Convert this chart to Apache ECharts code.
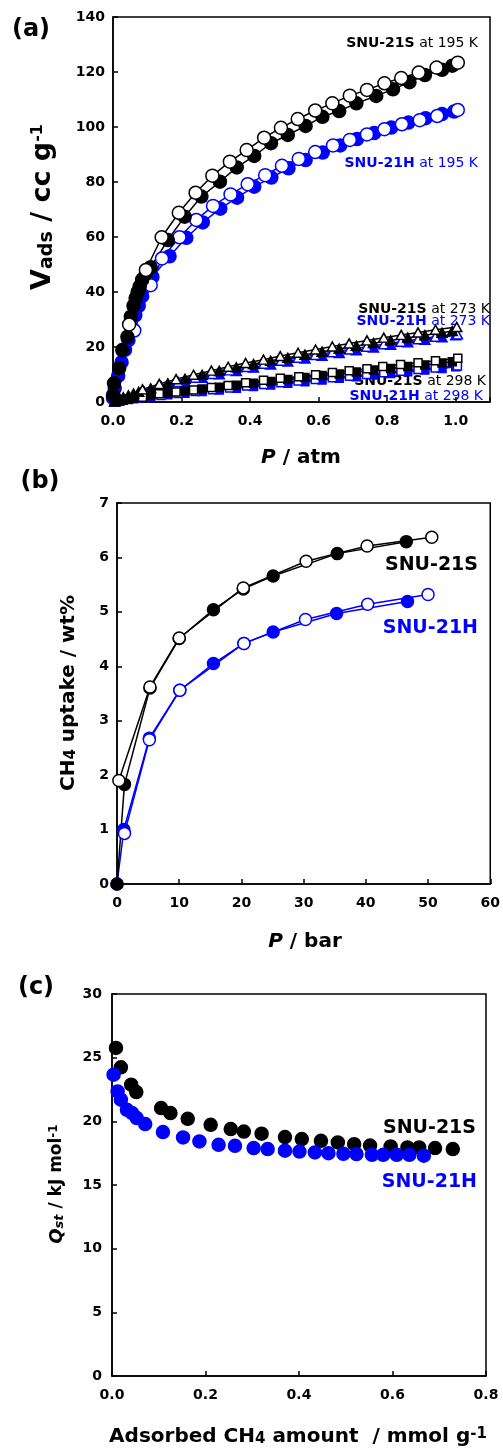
<!DOCTYPE html>
<html><head><meta charset="utf-8">
<script src="https://cdn.jsdelivr.net/npm/echarts@6/dist/echarts.min.js"></script>
<style>html,body{margin:0;padding:0;background:#fff}#c{width:503px;height:1451px}</style>
</head><body><div id="c"></div><script>
// ---------- Panel (a): CH4? isotherms, V_ads (cc/g) vs P (atm) ----------
const a_S195_ads = [[0.0,2.5],[0.003,6.8],[0.018,12.3],[0.027,18.9],[0.042,23.7],[0.052,31],[0.06,35],[0.066,37.8],[0.072,40],[0.078,42],[0.085,44.5],[0.095,46.5],[0.11,49],[0.16,58.9],[0.209,67.4],[0.258,74.7],[0.312,80.1],[0.361,85.3],[0.412,89.5],[0.461,94.1],[0.51,97.1],[0.562,100.4],[0.611,103.7],[0.66,105.8],[0.71,108.6],[0.768,111.3],[0.817,113.7],[0.865,116.3],[0.91,118.9],[0.96,120.8],[0.99,122.3]];
const a_S195_des = [[0.047,28.2],[0.096,48.0],[0.142,59.9],[0.192,68.8],[0.241,76.1],[0.29,82.3],[0.341,87.4],[0.39,91.6],[0.441,96.1],[0.49,99.7],[0.539,102.9],[0.59,106.0],[0.64,108.6],[0.691,111.4],[0.741,113.5],[0.792,115.9],[0.841,117.8],[0.892,119.8],[0.944,121.6],[1.006,123.4]];
const a_H195_ads = [[0.0,1.5],[0.005,5],[0.015,9.5],[0.025,14.5],[0.035,19],[0.045,22.5],[0.055,27],[0.065,31.5],[0.075,35],[0.085,38.5],[0.1,42.5],[0.115,45.5],[0.165,53],[0.214,59.7],[0.262,65.3],[0.313,70.3],[0.362,74.3],[0.412,78.3],[0.462,81.6],[0.512,85.0],[0.562,88.0],[0.612,90.7],[0.663,93.3],[0.712,95.6],[0.762,97.8],[0.812,99.8],[0.862,101.6],[0.912,103.2],[0.96,104.7],[0.995,105.6]];
const a_H195_des = [[0.062,26],[0.11,42.5],[0.143,52.2],[0.194,59.9],[0.243,66.2],[0.292,71.3],[0.343,75.5],[0.393,79.2],[0.444,82.5],[0.493,85.9],[0.542,88.4],[0.59,90.9],[0.642,93.3],[0.691,95.3],[0.741,97.3],[0.792,99.2],[0.843,101.0],[0.895,102.5],[0.946,104.0],[1.006,106.2]];
const a_S273_ads = [[0.005,0.3],[0.01,0.7],[0.02,1.2],[0.03,1.7],[0.045,2.4],[0.06,3.1],[0.075,3.7],[0.11,5.0],[0.16,6.8],[0.21,8.4],[0.26,9.9],[0.31,11.3],[0.36,12.6],[0.41,13.8],[0.46,15.0],[0.51,16.1],[0.56,17.2],[0.61,18.3],[0.66,19.4],[0.71,20.4],[0.76,21.4],[0.81,22.4],[0.86,23.4],[0.91,24.3],[0.96,25.2],[0.99,25.8]];
const a_S273_des = [[0.086,4.6],[0.135,6.6],[0.184,8.3],[0.235,9.9],[0.287,11.4],[0.336,12.8],[0.387,14.2],[0.439,15.4],[0.488,16.7],[0.54,17.9],[0.591,19.1],[0.64,20.2],[0.689,21.3],[0.741,22.4],[0.79,23.4],[0.841,24.4],[0.89,25.3],[0.941,26.3],[1.003,27.3]];
const a_H273_ads = [[0.005,0.2],[0.01,0.5],[0.02,1.0],[0.03,1.4],[0.045,2.0],[0.06,2.6],[0.075,3.1],[0.11,4.3],[0.16,5.9],[0.21,7.4],[0.26,8.8],[0.31,10.1],[0.36,11.3],[0.41,12.5],[0.46,13.6],[0.51,14.7],[0.56,15.8],[0.61,16.8],[0.66,17.8],[0.71,18.8],[0.76,19.8],[0.81,20.8],[0.86,21.7],[0.91,22.6],[0.96,23.5],[1.0,24.3]];
const a_H273_des = [[0.09,4.0],[0.14,5.8],[0.19,7.3],[0.24,8.8],[0.29,10.2],[0.34,11.5],[0.39,12.7],[0.44,13.9],[0.49,15.0],[0.54,16.1],[0.59,17.1],[0.64,18.1],[0.69,19.1],[0.74,20.1],[0.79,21.0],[0.84,21.9],[0.89,22.8],[0.94,23.7],[1.005,24.6]];
const a_S298_ads = [[0.005,0.1],[0.01,0.3],[0.02,0.5],[0.03,0.8],[0.045,1.1],[0.06,1.5],[0.075,1.8],[0.11,2.4],[0.16,3.2],[0.21,4.0],[0.26,4.7],[0.31,5.4],[0.36,6.1],[0.41,6.8],[0.46,7.5],[0.51,8.2],[0.56,8.9],[0.61,9.6],[0.66,10.2],[0.71,10.9],[0.76,11.6],[0.81,12.2],[0.86,12.9],[0.91,13.5],[0.96,14.2],[0.99,14.6]];
const a_S298_des = [[0.086,1.7],[0.135,3.0],[0.184,3.6],[0.235,4.4],[0.287,5.3],[0.336,6.0],[0.387,7.0],[0.439,7.9],[0.488,8.6],[0.542,9.2],[0.591,9.9],[0.64,10.7],[0.689,11.4],[0.741,12.1],[0.787,12.9],[0.839,13.6],[0.89,14.3],[0.941,15.0],[1.006,15.9]];
const a_H298_ads = [[0.005,0.1],[0.01,0.2],[0.02,0.4],[0.03,0.6],[0.045,0.9],[0.06,1.2],[0.075,1.4],[0.11,1.9],[0.16,2.6],[0.21,3.2],[0.26,3.8],[0.31,4.4],[0.36,5.0],[0.41,5.6],[0.46,6.2],[0.51,6.8],[0.56,7.4],[0.61,8.0],[0.66,8.6],[0.71,9.2],[0.76,9.8],[0.81,10.4],[0.86,11.0],[0.91,11.6],[0.96,12.2],[1.0,12.8]];
const a_H298_des = [[0.09,1.6],[0.14,2.4],[0.19,3.1],[0.24,3.8],[0.29,4.5],[0.34,5.1],[0.39,5.8],[0.44,6.4],[0.49,7.0],[0.54,7.6],[0.59,8.2],[0.64,8.8],[0.69,9.4],[0.74,10.0],[0.79,10.6],[0.84,11.2],[0.89,11.8],[0.94,12.4],[1.005,13.1]];
// ---------- Panel (b): CH4 uptake (wt%) vs P (bar) ----------
const b_S_ads = [[0,0],[1.2,1.83],[5.3,3.6],[10.0,4.51],[15.5,5.04],[20.3,5.42],[25.1,5.66],[35.4,6.07],[46.5,6.29]];
const b_S_des = [[0.3,1.9],[5.3,3.62],[10.0,4.52],[20.3,5.44],[30.4,5.93],[40.2,6.21],[50.6,6.37]];
const b_H_ads = [[0,0],[1.1,1.0],[5.2,2.68],[10.1,3.56],[15.5,4.05],[20.4,4.42],[25.1,4.63],[35.3,4.97],[46.7,5.19]];
const b_H_des = [[1.2,0.93],[5.2,2.65],[10.1,3.56],[20.4,4.42],[30.3,4.86],[40.3,5.14],[50.0,5.32]];
// ---------- Panel (c): Qst (kJ/mol) vs adsorbed amount (mmol/g) ----------
const c_S = [[0.0085,25.76],[0.019,24.24],[0.041,22.88],[0.052,22.3],[0.105,21.04],[0.125,20.65],[0.162,20.2],[0.211,19.73],[0.254,19.39],[0.282,19.2],[0.32,19.03],[0.37,18.76],[0.406,18.61],[0.447,18.47],[0.483,18.34],[0.518,18.21],[0.552,18.1],[0.596,18.03],[0.632,17.95],[0.657,17.95],[0.691,17.9],[0.729,17.82]];
const c_H = [[0.0034,23.66],[0.012,22.35],[0.019,21.7],[0.032,20.9],[0.043,20.65],[0.053,20.26],[0.071,19.79],[0.109,19.16],[0.152,18.74],[0.187,18.42],[0.228,18.16],[0.263,18.08],[0.303,17.9],[0.333,17.82],[0.37,17.69],[0.401,17.63],[0.434,17.56],[0.463,17.5],[0.495,17.45],[0.523,17.43],[0.556,17.37],[0.58,17.37],[0.609,17.37],[0.636,17.37],[0.667,17.3]];

const BLK = '#000000', BLU = '#0000ff';
const FF = 'DejaVu Sans';

function ser(data, gi, symbol, size, filled, col, showLine) {
  return {
    type: showLine ? 'line' : 'scatter', xAxisIndex: gi, yAxisIndex: gi, data: data,
    symbol: symbol, symbolSize: size, showSymbol: true, animation: false, silent: true,
    itemStyle: { color: filled ? col : '#ffffff', borderColor: col, borderWidth: 1.5, opacity: 1 },
    lineStyle: { color: col, width: 1.5 }
  };
}
function xAx(gi, min, max, interval, fmt) {
  return { type: 'value', gridIndex: gi, min: min, max: max, interval: interval,
    axisLine: { show: true, onZero: false, lineStyle: { color: '#000', width: 1.5 } },
    axisTick: { show: true, inside: true, length: 5, lineStyle: { color: '#000', width: 1.5 } },
    splitLine: { show: false },
    axisLabel: { color: '#000', fontFamily: FF, fontWeight: 'bold', fontSize: 14, margin: 12, formatter: fmt } };
}
function yAx(gi, min, max, interval, margin) {
  return { type: 'value', gridIndex: gi, min: min, max: max, interval: interval,
    axisLine: { show: true, onZero: false, lineStyle: { color: '#000', width: 1.5 } },
    axisTick: { show: true, inside: true, length: 5, lineStyle: { color: '#000', width: 1.5 } },
    splitLine: { show: false },
    axisLabel: { color: '#000', fontFamily: FF, fontWeight: 'bold', fontSize: 14, margin: margin } };
}
function txt(x, y, text, opt) {
  return { type: 'text', x: x, y: y, rotation: opt.rot || 0, silent: true,
    style: { text: text, fill: opt.fill || '#000', fontFamily: FF, fontWeight: opt.fw || 'bold',
      fontSize: opt.fs || 14, fontStyle: opt.fst || 'normal',
      align: opt.align || 'center', verticalAlign: 'middle', rich: opt.rich || {} } };
}
function annRich(col) {
  return { b: { fontFamily: FF, fontWeight: 'bold', fontSize: 14, fill: col },
           r: { fontFamily: FF, fontWeight: 'normal', fontSize: 14, fill: col } };
}

const fmtA = v => (Math.abs(v / 0.2 - Math.round(v / 0.2)) < 1e-6) ? v.toFixed(1) : '';
const fmt1 = v => v.toFixed(1);
const fmt0 = v => String(Math.round(v));

const chart = echarts.init(document.getElementById('c'), null, { renderer: 'canvas' });
chart.setOption({
  backgroundColor: '#fff',
  animation: false,
  grid: [
    { left: 113, top: 17, width: 377, height: 385, show: true, borderColor: '#000', borderWidth: 1.5, containLabel: false },
    { left: 117, top: 503, width: 374, height: 381, show: true, borderColor: '#000', borderWidth: 1.5, containLabel: false },
    { left: 112, top: 994, width: 374, height: 382, show: true, borderColor: '#000', borderWidth: 1.5, containLabel: false }
  ],
  xAxis: [ xAx(0, 0, 1.1, 0.2, fmtA), xAx(1, 0, 60, 10, fmt0), xAx(2, 0, 0.8, 0.2, fmt1) ],
  yAxis: [ yAx(0, 0, 140, 20, 8), yAx(1, 0, 7, 1, 8), yAx(2, 0, 30, 5, 10) ],
  series: [
    ser(a_H298_ads, 0, 'rect', 8, true, BLU, true),
    ser(a_H298_des, 0, 'rect', 8, false, BLU, true),
    ser(a_H273_ads, 0, 'triangle', [10, 9], true, BLU, true),
    ser(a_H273_des, 0, 'triangle', [10, 9], false, BLU, true),
    ser(a_H195_ads, 0, 'circle', 13, true, BLU, true),
    ser(a_H195_des, 0, 'circle', 13, false, BLU, true),
    ser(a_S298_ads, 0, 'rect', 8, true, BLK, true),
    ser(a_S298_des, 0, 'rect', 8, false, BLK, true),
    ser(a_S273_ads, 0, 'triangle', [10, 9], true, BLK, true),
    ser(a_S273_des, 0, 'triangle', [10, 9], false, BLK, true),
    ser(a_S195_ads, 0, 'circle', 13, true, BLK, true),
    ser(a_S195_des, 0, 'circle', 13, false, BLK, true),
    ser(b_H_ads, 1, 'circle', 12, true, BLU, true),
    ser(b_H_des, 1, 'circle', 12, false, BLU, true),
    ser(b_S_ads, 1, 'circle', 12, true, BLK, true),
    ser(b_S_des, 1, 'circle', 12, false, BLK, true),
    ser(c_S, 2, 'circle', 13, true, BLK, false),
    ser(c_H, 2, 'circle', 13, true, BLU, false)
  ],
  graphic: [
    txt(31, 30, '(a)', { fs: 24 }),
    txt(40, 482, '(b)', { fs: 24 }),
    txt(36, 988, '(c)', { fs: 24 }),
    // panel (a) annotations
    txt(478, 43, '{b|SNU-21S}{r| at 195 K}', { align: 'right', rich: annRich(BLK) }),
    txt(478, 163, '{b|SNU-21H}{r| at 195 K}', { align: 'right', rich: annRich(BLU) }),
    txt(490, 309, '{b|SNU-21S}{r| at 273 K}', { align: 'right', rich: annRich(BLK) }),
    txt(490, 321, '{b|SNU-21H}{r| at 273 K}', { align: 'right', rich: annRich(BLU) }),
    txt(486, 381, '{b|SNU-21S}{r| at 298 K}', { align: 'right', rich: annRich(BLK) }),
    txt(483, 396, '{b|SNU-21H}{r| at 298 K}', { align: 'right', rich: annRich(BLU) }),
    // panel (b) annotations
    txt(478, 565, 'SNU-21S', { align: 'right', fs: 19, fill: BLK }),
    txt(478, 628, 'SNU-21H', { align: 'right', fs: 19, fill: BLU }),
    // panel (c) annotations
    txt(476, 1128, 'SNU-21S', { align: 'right', fs: 19, fill: BLK }),
    txt(477, 1182, 'SNU-21H', { align: 'right', fs: 19, fill: BLU }),
    // axis titles
    txt(43, 207, '{m|V}{sub|ads}{m| / cc g}{sup|-1}', { rot: Math.PI / 2, fs: 27, rich: {
      m: { fontFamily: FF, fontWeight: 'bold', fontSize: 27 },
      sub: { fontFamily: FF, fontWeight: 'bold', fontSize: 19, verticalAlign: 'bottom' },
      sup: { fontFamily: FF, fontWeight: 'bold', fontSize: 16, verticalAlign: 'top' } } }),
    txt(301, 458, '{i|P}{m| / atm}', { fs: 20, rich: {
      i: { fontFamily: FF, fontWeight: 'bold', fontStyle: 'italic', fontSize: 20 },
      m: { fontFamily: FF, fontWeight: 'bold', fontSize: 20 } } }),
    txt(69, 693, '{m|CH}{sub|4}{m| uptake / wt%}', { rot: Math.PI / 2, fs: 20, rich: {
      m: { fontFamily: FF, fontWeight: 'bold', fontSize: 20 },
      sub: { fontFamily: FF, fontWeight: 'bold', fontSize: 15, lineHeight: 10, verticalAlign: 'bottom' } } }),
    txt(305, 942, '{i|P}{m| / bar}', { fs: 20, rich: {
      i: { fontFamily: FF, fontWeight: 'bold', fontStyle: 'italic', fontSize: 20 },
      m: { fontFamily: FF, fontWeight: 'bold', fontSize: 20 } } }),
    txt(57, 1184, '{q|Q}{st|st}{m| / kJ mol}{sup|-1}', { rot: Math.PI / 2, fs: 17, rich: {
      q: { fontFamily: FF, fontWeight: 'bold', fontStyle: 'italic', fontSize: 18 },
      st: { fontFamily: FF, fontWeight: 'bold', fontStyle: 'italic', fontSize: 13, lineHeight: 10, verticalAlign: 'bottom' },
      m: { fontFamily: FF, fontWeight: 'bold', fontSize: 17 },
      sup: { fontFamily: FF, fontWeight: 'bold', fontSize: 12, verticalAlign: 'top' } } }),
    txt(298, 1437, '{m|Adsorbed CH}{sub|4}{m| amount  / mmol g}{sup|-1}', { fs: 20, rich: {
      m: { fontFamily: FF, fontWeight: 'bold', fontSize: 20 },
      sub: { fontFamily: FF, fontWeight: 'bold', fontSize: 15, lineHeight: 10, verticalAlign: 'bottom' },
      sup: { fontFamily: FF, fontWeight: 'bold', fontSize: 15, verticalAlign: 'top' } } })
  ]
});
</script></body></html>
